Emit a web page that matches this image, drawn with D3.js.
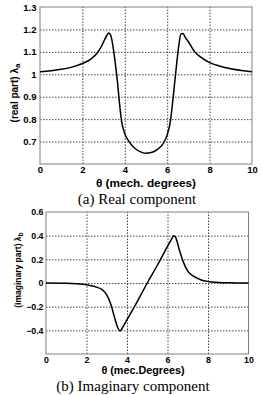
<!DOCTYPE html>
<html>
<head>
<meta charset="utf-8">
<script src="https://cdn.jsdelivr.net/npm/d3@7"></script>
<style>
  body { margin: 0; background: #fff; }
  svg { display: block; }
  .tick text { font-family: "Liberation Sans", Arial, sans-serif; font-weight: bold; fill: #000; }
  .grid line { stroke: #333; stroke-dasharray: 1.5, 1.5; stroke-width: 0.9; }
</style>
</head>
<body>
<div id="chart"></div>
<script>
// real part (top panel)
const realX = [0, 0.5, 1, 1.5, 2, 2.4, 2.7, 2.9, 3.05, 3.15, 3.24, 3.35, 3.45, 3.55, 3.65, 3.75, 3.85, 4.0, 4.2, 4.5, 4.8, 5.0,
               5.2, 5.5, 5.8, 6.0, 6.15, 6.25, 6.35, 6.45, 6.55, 6.65, 6.75, 6.85, 7.0, 7.3, 7.6, 8.0, 8.5, 9.0, 9.5, 10]
const realY = [1.011, 1.016, 1.022, 1.032, 1.048, 1.068, 1.095, 1.125, 1.155, 1.173, 1.184, 1.17, 1.12, 1.05, 0.97, 0.87, 0.79, 0.735, 0.70, 0.668, 0.652, 0.648,
               0.65, 0.662, 0.69, 0.73, 0.79, 0.87, 0.96, 1.05, 1.13, 1.18, 1.182, 1.165, 1.145, 1.10, 1.075, 1.052, 1.036, 1.025, 1.017, 1.011]

// imaginary part (bottom panel)
const imagX = [0, 1, 1.5, 2, 2.5, 2.8, 3.0, 3.2, 3.4, 3.55, 3.66, 3.8, 4.0, 4.5, 5.0, 5.5, 6.0, 6.2, 6.3, 6.4, 6.6, 6.8, 7.0, 7.3, 7.6, 8.0, 8.5, 9, 10]
const imagY = [0, -0.002, -0.006, -0.015, -0.035, -0.06, -0.1, -0.18, -0.3, -0.38, -0.405, -0.37, -0.31, -0.16, 0, 0.15, 0.31, 0.37, 0.4, 0.385, 0.27, 0.17, 0.1, 0.055, 0.03, 0.012, 0.005, 0.002, 0]

const xTicks = [0, 2, 4, 6, 8, 10]
const realTicks = [0.7, 0.8, 0.9, 1, 1.1, 1.2, 1.3]
const imagTicks = [-0.4, -0.2, 0, 0.2, 0.4, 0.6]

const width = 262
const height = 395

const svg = d3.select("#chart")
  .append("svg")
  .attr("width", width)
  .attr("height", height)

function drawPanel(opt) {
  const g = svg.append("g")
  const x = d3.scaleLinear().domain([0, 10]).range([opt.left, opt.right])
  const y = d3.scaleLinear().domain(opt.yDomain).range([opt.bottom, opt.top])
  const h = opt.bottom - opt.top
  const w = opt.right - opt.left

  // grid
  g.append("g")
    .attr("class", "grid")
    .attr("transform", `translate(0,${opt.bottom})`)
    .call(d3.axisBottom(x).tickValues(xTicks.slice(1, -1)).tickSize(-h).tickFormat(""))
    .call(s => s.select(".domain").remove())
  g.append("g")
    .attr("class", "grid")
    .attr("transform", `translate(${opt.left},0)`)
    .call(d3.axisLeft(y).tickValues(opt.yTicks.filter(v => v !== opt.yDomain[1])).tickSize(-w).tickFormat(""))
    .call(s => s.select(".domain").remove())

  // frame
  g.append("rect")
    .attr("x", opt.left)
    .attr("y", opt.top)
    .attr("width", w)
    .attr("height", h)
    .attr("fill", "none")
    .attr("stroke", "#808080")
    .attr("stroke-width", 1)

  // tick labels
  g.append("g")
    .attr("transform", `translate(0,${opt.bottom})`)
    .call(d3.axisBottom(x).tickValues(xTicks).tickSize(0).tickPadding(opt.xPad).tickFormat(d3.format("d")))
    .call(s => s.select(".domain").remove())
    .selectAll("text").style("font-size", opt.tickSize + "px")
  g.append("g")
    .attr("transform", `translate(${opt.left},0)`)
    .call(d3.axisLeft(y).tickValues(opt.yTicks).tickSize(0).tickPadding(opt.yPad).tickFormat(d => d3.format("")(+d.toFixed(1))))
    .call(s => s.select(".domain").remove())
    .selectAll("text").style("font-size", opt.tickSize + "px")

  // curve
  const line = d3.line()
    .x(d => x(d[0]))
    .y(d => y(d[1]))
    .curve(d3.curveMonotoneX)
  g.append("path")
    .datum(opt.xs.map((v, i) => [v, opt.ys[i]]))
    .attr("fill", "none")
    .attr("stroke", "#000")
    .attr("stroke-width", 1.5)
    .attr("d", line)

  // x title
  g.append("text")
    .attr("x", opt.xTitleX)
    .attr("y", opt.xTitleY)
    .attr("text-anchor", "middle")
    .style("font-family", "Liberation Sans, Arial, sans-serif")
    .style("font-weight", "bold")
    .style("font-size", opt.xTitleSize + "px")
    .text(opt.xTitle)

  // y title
  const yt = g.append("text")
    .attr("transform", `translate(${opt.yTitleX},${opt.yTitleY}) rotate(-90)`)
    .attr("text-anchor", "middle")
    .style("font-family", "Liberation Sans, Arial, sans-serif")
    .style("font-weight", "bold")
    .style("font-size", opt.yTitleSize + "px")
  yt.append("tspan").text(opt.yTitle + " λ")
  yt.append("tspan").attr("dy", "0.35em").style("font-size", (opt.yTitleSize * 0.8) + "px").text(opt.ySub)

  // caption
  g.append("text")
    .attr("x", opt.capX)
    .attr("y", opt.capY)
    .attr("text-anchor", "middle")
    .style("font-family", "Liberation Serif, Times New Roman, serif")
    .style("font-size", "15px")
    .text(opt.caption)
}

drawPanel({
  left: 40, right: 252, top: 7, bottom: 164,
  yDomain: [0.6, 1.3], yTicks: realTicks,
  xs: realX, ys: realY,
  tickSize: 9.5, xPad: 2.5, yPad: 3.5,
  xTitle: "θ (mech. degrees)", xTitleX: 146, xTitleY: 186.5, xTitleSize: 11.8,
  yTitle: "(real part)", ySub: "a", yTitleX: 17.5, yTitleY: 93, yTitleSize: 10,
  caption: "(a) Real component", capX: 137, capY: 203.5
})

drawPanel({
  left: 46, right: 248.5, top: 212, bottom: 354,
  yDomain: [-0.6, 0.6], yTicks: imagTicks,
  xs: imagX, ys: imagY,
  tickSize: 8.8, xPad: 2.8, yPad: 2.5,
  xTitle: "θ (mec.Degrees)", xTitleX: 143, xTitleY: 374, xTitleSize: 10.8,
  yTitle: "(Imaginary part)", ySub: "b", yTitleX: 21, yTitleY: 270, yTitleSize: 8.5,
  caption: "(b) Imaginary component", capX: 133, capY: 390.5
})
</script>
</body>
</html>
